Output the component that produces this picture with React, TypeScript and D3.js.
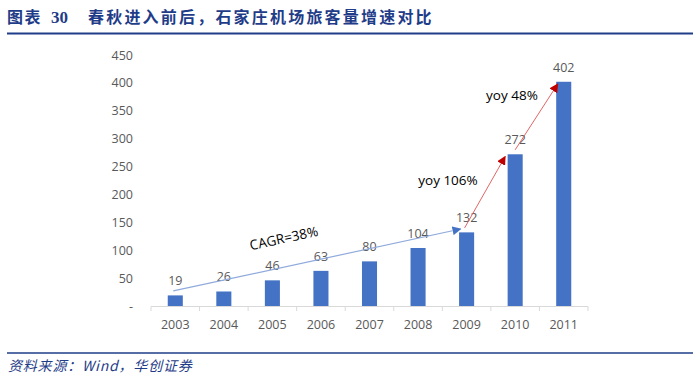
import React from "react";
import * as d3 from "d3";

const years = ["2003", "2004", "2005", "2006", "2007", "2008", "2009", "2010", "2011"];
const passengers = [19, 26, 46, 63, 80, 104, 132, 272, 402];
const yTicks = [0, 50, 100, 150, 200, 250, 300, 350, 400, 450];
const titleLabel = "图表";
const titleNumber = "30";
const titleText = "春秋进入前后，石家庄机场旅客量增速对比";
const sourceText = "资料来源：Wind，华创证券";
const cagrLabel = "CAGR=38%";
const yoyLabels = ["yoy 106%", "yoy 48%"];

export default function App() {
  const W = 700, H = 377;
  const x = d3.scaleBand<string>().domain(years).range([151, 588]).paddingInner(0.69).paddingOuter(0.345);
  const xb = d3.scaleBand<string>().domain(years).range([151, 588]);
  const y = d3.scaleLinear().domain([0, 450]).range([306, 55]);
  const font = "'Open Sans', 'Noto Sans', sans-serif";
  const cjk = "'Noto Sans CJK SC', sans-serif";
  const gray = "#595959";
  const navy = "#1F3C88";
  const cx = (yr: string) => (xb(yr) as number) + xb.bandwidth() / 2;

  const c0 = [cx("2003") - 2, y(27)];
  const c1 = [cx("2009") - 6, y(138)];
  const ang = (Math.atan2(c1[1] - c0[1], c1[0] - c0[0]) * 180) / Math.PI;
  const r1a = [cx("2009") - 2, y(140)];
  const r1b = [cx("2010") - 10, y(268)];
  const r2a = [cx("2010") + 0, y(280)];
  const r2b = [cx("2011") - 6, y(398)];

  return (
    <svg width={W} height={H} style={{ position: "absolute", left: 0, top: 0 }}>
      <defs>
        <marker id="blueArrow" viewBox="0 0 10 10" refX="9" refY="5" markerWidth="9" markerHeight="9" markerUnits="userSpaceOnUse" orient="auto">
          <path d="M0,0 L10,5 L0,10 z" fill="#4472C4" />
        </marker>
        <marker id="redArrow" viewBox="0 0 10 10" refX="9" refY="5" markerWidth="9" markerHeight="9" markerUnits="userSpaceOnUse" orient="auto">
          <path d="M0,0 L10,5 L0,10 z" fill="#C00000" />
        </marker>
      </defs>
      <rect width={W} height={H} fill="#fff" />
      <text x={7} y={23} fontFamily={cjk} fontWeight="bold" fontSize={16} letterSpacing={1.5} fill={navy}>
        {titleLabel}
      </text>
      <text x={51} y={23} fontFamily="'Liberation Serif', serif" fontWeight="bold" fontSize={17} fill={navy}>
        {titleNumber}
      </text>
      <text x={88} y={23} fontFamily={cjk} fontWeight="bold" fontSize={16} letterSpacing={2.2} fill={navy}>
        {titleText}
      </text>
      <line x1={7} x2={693} y1={33.5} y2={33.5} stroke={navy} strokeWidth={2} />

      {yTicks.map((t) => (
        <text key={t} x={133} y={y(t) + 4.5} textAnchor="end" fontFamily={font} fontSize={12.5} fill={gray}>
          {t === 0 ? "-" : t}
        </text>
      ))}

      <line x1={151} x2={588} y1={306.5} y2={306.5} stroke="#D9D9D9" strokeWidth={1} />
      {d3.range(years.length + 1).map((i) => {
        const xx = 151 + i * xb.bandwidth();
        return <line key={i} x1={xx} x2={xx} y1={306.5} y2={311} stroke="#D9D9D9" strokeWidth={1} />;
      })}
      {years.map((yr) => (
        <text key={yr} x={cx(yr)} y={329} textAnchor="middle" fontFamily={font} fontSize={12.5} fill={gray}>
          {yr}
        </text>
      ))}

      {years.map((yr, i) => (
        <rect key={yr} x={x(yr)} y={y(passengers[i])} width={x.bandwidth()} height={306 - y(passengers[i])} fill="#4472C4" />
      ))}
      {years.map((yr, i) => (
        <text key={yr} x={cx(yr)} y={y(passengers[i]) - 10} textAnchor="middle" fontFamily={font} fontSize={12.5} fill={gray}>
          {passengers[i]}
        </text>
      ))}

      <line x1={c0[0]} y1={c0[1]} x2={c1[0]} y2={c1[1]} stroke="#8FAADC" strokeWidth={1.2} markerEnd="url(#blueArrow)" />
      <text x={284} y={243} textAnchor="middle" fontFamily={font} fontSize={13.5} fill="#000" transform={`rotate(${ang}, 284, 239)`}>
        {cagrLabel}
      </text>

      <line x1={r1a[0]} y1={r1a[1]} x2={r1b[0]} y2={r1b[1]} stroke="#E06666" strokeWidth={1} markerEnd="url(#redArrow)" />
      <line x1={r2a[0]} y1={r2a[1]} x2={r2b[0]} y2={r2b[1]} stroke="#E06666" strokeWidth={1} markerEnd="url(#redArrow)" />
      <text x={448} y={185} textAnchor="middle" fontFamily={font} fontSize={13.5} fill="#000">{yoyLabels[0]}</text>
      <text x={512} y={100} textAnchor="middle" fontFamily={font} fontSize={13.5} fill="#000">{yoyLabels[1]}</text>

      <line x1={7} x2={693} y1={353} y2={353} stroke={navy} strokeWidth={1.5} />
      <text x={8} y={371} fontFamily={cjk} fontStyle="italic" fontSize={14} letterSpacing={0.8} fill={navy}>
        {sourceText}
      </text>
    </svg>
  );
}
